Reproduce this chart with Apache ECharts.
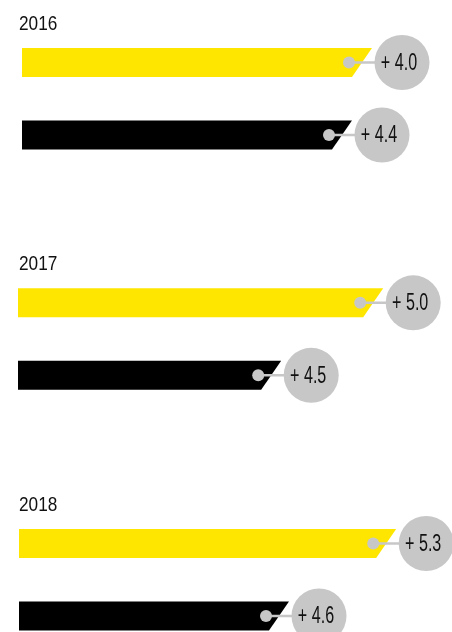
<!DOCTYPE html>
<html>
<head>
<meta charset="utf-8">
<style>
  html, body { margin: 0; padding: 0; background: #fff; }
  #main { width: 452px; height: 632px; }
</style>
<script src="https://cdn.jsdelivr.net/npm/echarts@6/dist/echarts.min.js"></script>
</head>
<body>
<div id="main"></div>
<script>
// 年份
var years = ['2016', '2017', '2018'];
// 两行：黄色(0)、黑色(1)
var rows = [0, 1];
// 条形长度
var yellowValues = [87.5, 91.3, 94.3];
var blackValues = [82.5, 65.8, 67.5];
// 圆圈中的增幅
var yellowGrowth = [4.0, 5.0, 5.3];
var blackGrowth = [4.4, 4.5, 4.6];

var colors = ['#ffe600', '#000000'];
var grey = '#c7c7c7';

// 每个年份一个 grid（y 轴从 -0.5 到 1，两行中心在 0 和 1）
var gridTops = [26.25, 266.6, 507.25];
var gridLefts = [22, 18, 19];

function renderItem(params, api) {
    var row = api.value(1);
    var start = api.coord([0, row]);
    var end = api.coord([api.value(0), row]);
    var h = api.size([0, 1])[1] * 0.4;
    var yTop = end[1] - h / 2;
    var yBot = end[1] + h / 2;
    var slant = h * 0.69;
    var dotX = end[0] - 23;
    var cx = end[0] + 30;
    return {
        type: 'group',
        children: [
            {
                type: 'polygon',
                shape: {
                    points: [[start[0], yTop], [end[0], yTop], [end[0] - slant, yBot], [start[0], yBot]]
                },
                style: { fill: colors[row] }
            },
            {
                type: 'line',
                shape: { x1: dotX, y1: end[1], x2: cx, y2: end[1] },
                style: { stroke: grey, lineWidth: 2.5 }
            },
            {
                type: 'circle',
                shape: { cx: dotX, cy: end[1], r: 6 },
                style: { fill: grey }
            },
            {
                type: 'circle',
                shape: { cx: cx, cy: end[1], r: 27.5 },
                style: { fill: grey }
            },
            {
                type: 'text',
                x: cx - 3,
                y: end[1] + 1,
                scaleX: 0.7,
                style: {
                    text: '+ ' + api.value(2).toFixed(1),
                    fill: '#111',
                    font: '23px "Liberation Sans", sans-serif',
                    align: 'center',
                    verticalAlign: 'middle'
                }
            }
        ]
    };
}

var grid = [], xAxis = [], yAxis = [], series = [], graphic = [];
for (var i = 0; i < years.length; i++) {
    grid.push({ left: gridLefts[i], width: 400, top: gridTops[i], height: 108.75 });
    xAxis.push({ gridIndex: i, type: 'value', min: 0, max: 100, show: false });
    yAxis.push({ gridIndex: i, type: 'value', min: -0.5, max: 1, inverse: true, show: false });
    graphic.push({
        type: 'text',
        x: 19,
        y: gridTops[i] - 2,
        scaleX: 0.86,
        style: {
            text: years[i],
            fill: '#111',
            font: '20px "Liberation Sans", sans-serif',
            align: 'left',
            verticalAlign: 'middle'
        }
    });
    series.push({
        type: 'custom',
        xAxisIndex: i,
        yAxisIndex: i,
        renderItem: renderItem,
        data: [
            [yellowValues[i], rows[0], yellowGrowth[i]],
            [blackValues[i], rows[1], blackGrowth[i]]
        ]
    });
}

var myChart = echarts.init(document.getElementById('main'));
myChart.setOption({
    animation: false,
    graphic: graphic,
    grid: grid,
    xAxis: xAxis,
    yAxis: yAxis,
    series: series
});
</script>
</body>
</html>
